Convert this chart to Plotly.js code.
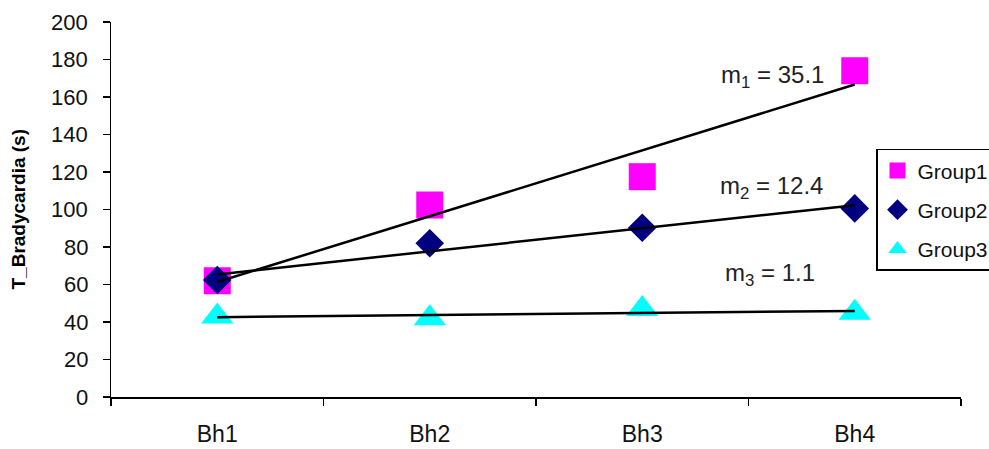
<!DOCTYPE html>
<html>
<head>
<meta charset="utf-8">
<script src="https://cdn.plot.ly/plotly-3.0.1.min.js"></script>
<style>html,body{margin:0;padding:0;background:#fff;}#chart{width:989px;height:449px;}</style>
</head>
<body>
<div id="chart"></div>
<script>
const categories = ["Bh1", "Bh2", "Bh3", "Bh4"];
const group1 = [62, 102.4, 117.5, 174];
const group2 = [62.4, 82, 90.3, 100.6];
const group3 = [43, 42, 47, 45];
const seriesNames = ["Group1", "Group2", "Group3"];
const slopeLabels = ["m<sub>1</sub> = 35.1", "m<sub>2</sub> = 12.4", "m<sub>3</sub> = 1.1"];
const yTicks = [0, 20, 40, 60, 80, 100, 120, 140, 160, 180, 200];
const yTitle = "T_Bradycardia (s)";

function fit(vals) {
  const n = vals.length;
  const xs = vals.map((_, i) => i + 1);
  const mx = xs.reduce((a, b) => a + b, 0) / n;
  const my = vals.reduce((a, b) => a + b, 0) / n;
  let sxy = 0, sxx = 0;
  for (let i = 0; i < n; i++) { sxy += (xs[i] - mx) * (vals[i] - my); sxx += (xs[i] - mx) ** 2; }
  const m = sxy / sxx;
  const b = my - m * mx;
  return xs.map(x => m * x + b);
}

const font = "Liberation Sans, Arial, sans-serif";
const styles = [
  {symbol: "square", color: "#FF00FF", size: 27},
  {symbol: "diamond", color: "#000080", size: 22},
  {symbol: "triangle-up", color: "#00FFFF", size: 28}
];
const data = [group1, group2, group3];
const traces = [];
data.forEach((vals, i) => {
  traces.push({
    x: categories, y: vals, type: "scatter", mode: "markers", name: seriesNames[i],
    legendgroup: "g" + i,
    marker: {symbol: styles[i].symbol, color: styles[i].color, size: styles[i].size, line: {width: 0}},
    hoverinfo: "x+y"
  });
});
data.forEach((vals, i) => {
  const f = fit(vals);
  traces.push({
    x: [categories[0], categories[categories.length - 1]],
    y: [f[0], f[f.length - 1]],
    type: "scatter", mode: "lines", showlegend: false,
    line: {color: "#000", width: 2.5}, hoverinfo: "skip"
  });
});

const annotations = [
  {x: 2.613, y: 170.7, text: slopeLabels[0]},
  {x: 2.61, y: 111.5, text: slopeLabels[1]},
  {x: 2.60, y: 65.1, text: slopeLabels[2]}
].map(a => Object.assign(a, {xref: "x", yref: "y", showarrow: false,
  font: {family: font, size: 24, color: "#222"}, xanchor: "center", yanchor: "middle"}));

// y tick labels (placed on the y scale, a little further from the axis than Plotly's default)
yTicks.forEach(v => annotations.push({
  xref: "paper", yref: "y", x: -0.0247, y: v, text: String(v), showarrow: false,
  xanchor: "right", yanchor: "middle",
  font: {family: font, size: 22, color: "#111"}
}));
annotations.push({
  xref: "paper", yref: "paper", x: -0.1094, y: 0.5, text: "<b>" + yTitle + "</b>",
  textangle: -90, showarrow: false, xanchor: "center", yanchor: "middle",
  font: {family: font, size: 19, color: "#000"}
});

const layout = {
  width: 989, height: 449,
  margin: {l: 111, r: 28, t: 22, b: 52, autoexpand: false},
  paper_bgcolor: "#fff", plot_bgcolor: "#fff",
  font: {family: font, size: 19, color: "#000"},
  showlegend: true,
  legend: {
    x: 0.9, y: 0.662, xanchor: "left", yanchor: "top",
    bgcolor: "#fff", bordercolor: "#000", borderwidth: 1.5,
    font: {family: font, size: 21, color: "#111"},
    traceorder: "grouped", tracegroupgap: 9,
    itemwidth: 30
  },
  xaxis: {
    type: "category", categoryorder: "array", categoryarray: categories,
    range: [-0.5, 3.5], showgrid: false, zeroline: false,
    showline: true, linecolor: "#000", linewidth: 1.5,
    ticks: "outside", tickson: "boundaries", ticklen: 7, tickcolor: "#000", tickwidth: 1.5,
    ticklabelstandoff: 16,
    tickfont: {family: font, size: 23, color: "#111"}, fixedrange: true
  },
  yaxis: {
    range: [0, 200], tickvals: yTicks, showticklabels: false,
    showgrid: false, zeroline: false,
    showline: true, linecolor: "#000", linewidth: 1.5,
    ticks: "outside", ticklen: 7, tickcolor: "#000", tickwidth: 1.5,
    fixedrange: true
  },
  annotations: annotations
};

Plotly.newPlot("chart", traces, layout, {displayModeBar: false, staticPlot: true});
</script>
</body>
</html>
